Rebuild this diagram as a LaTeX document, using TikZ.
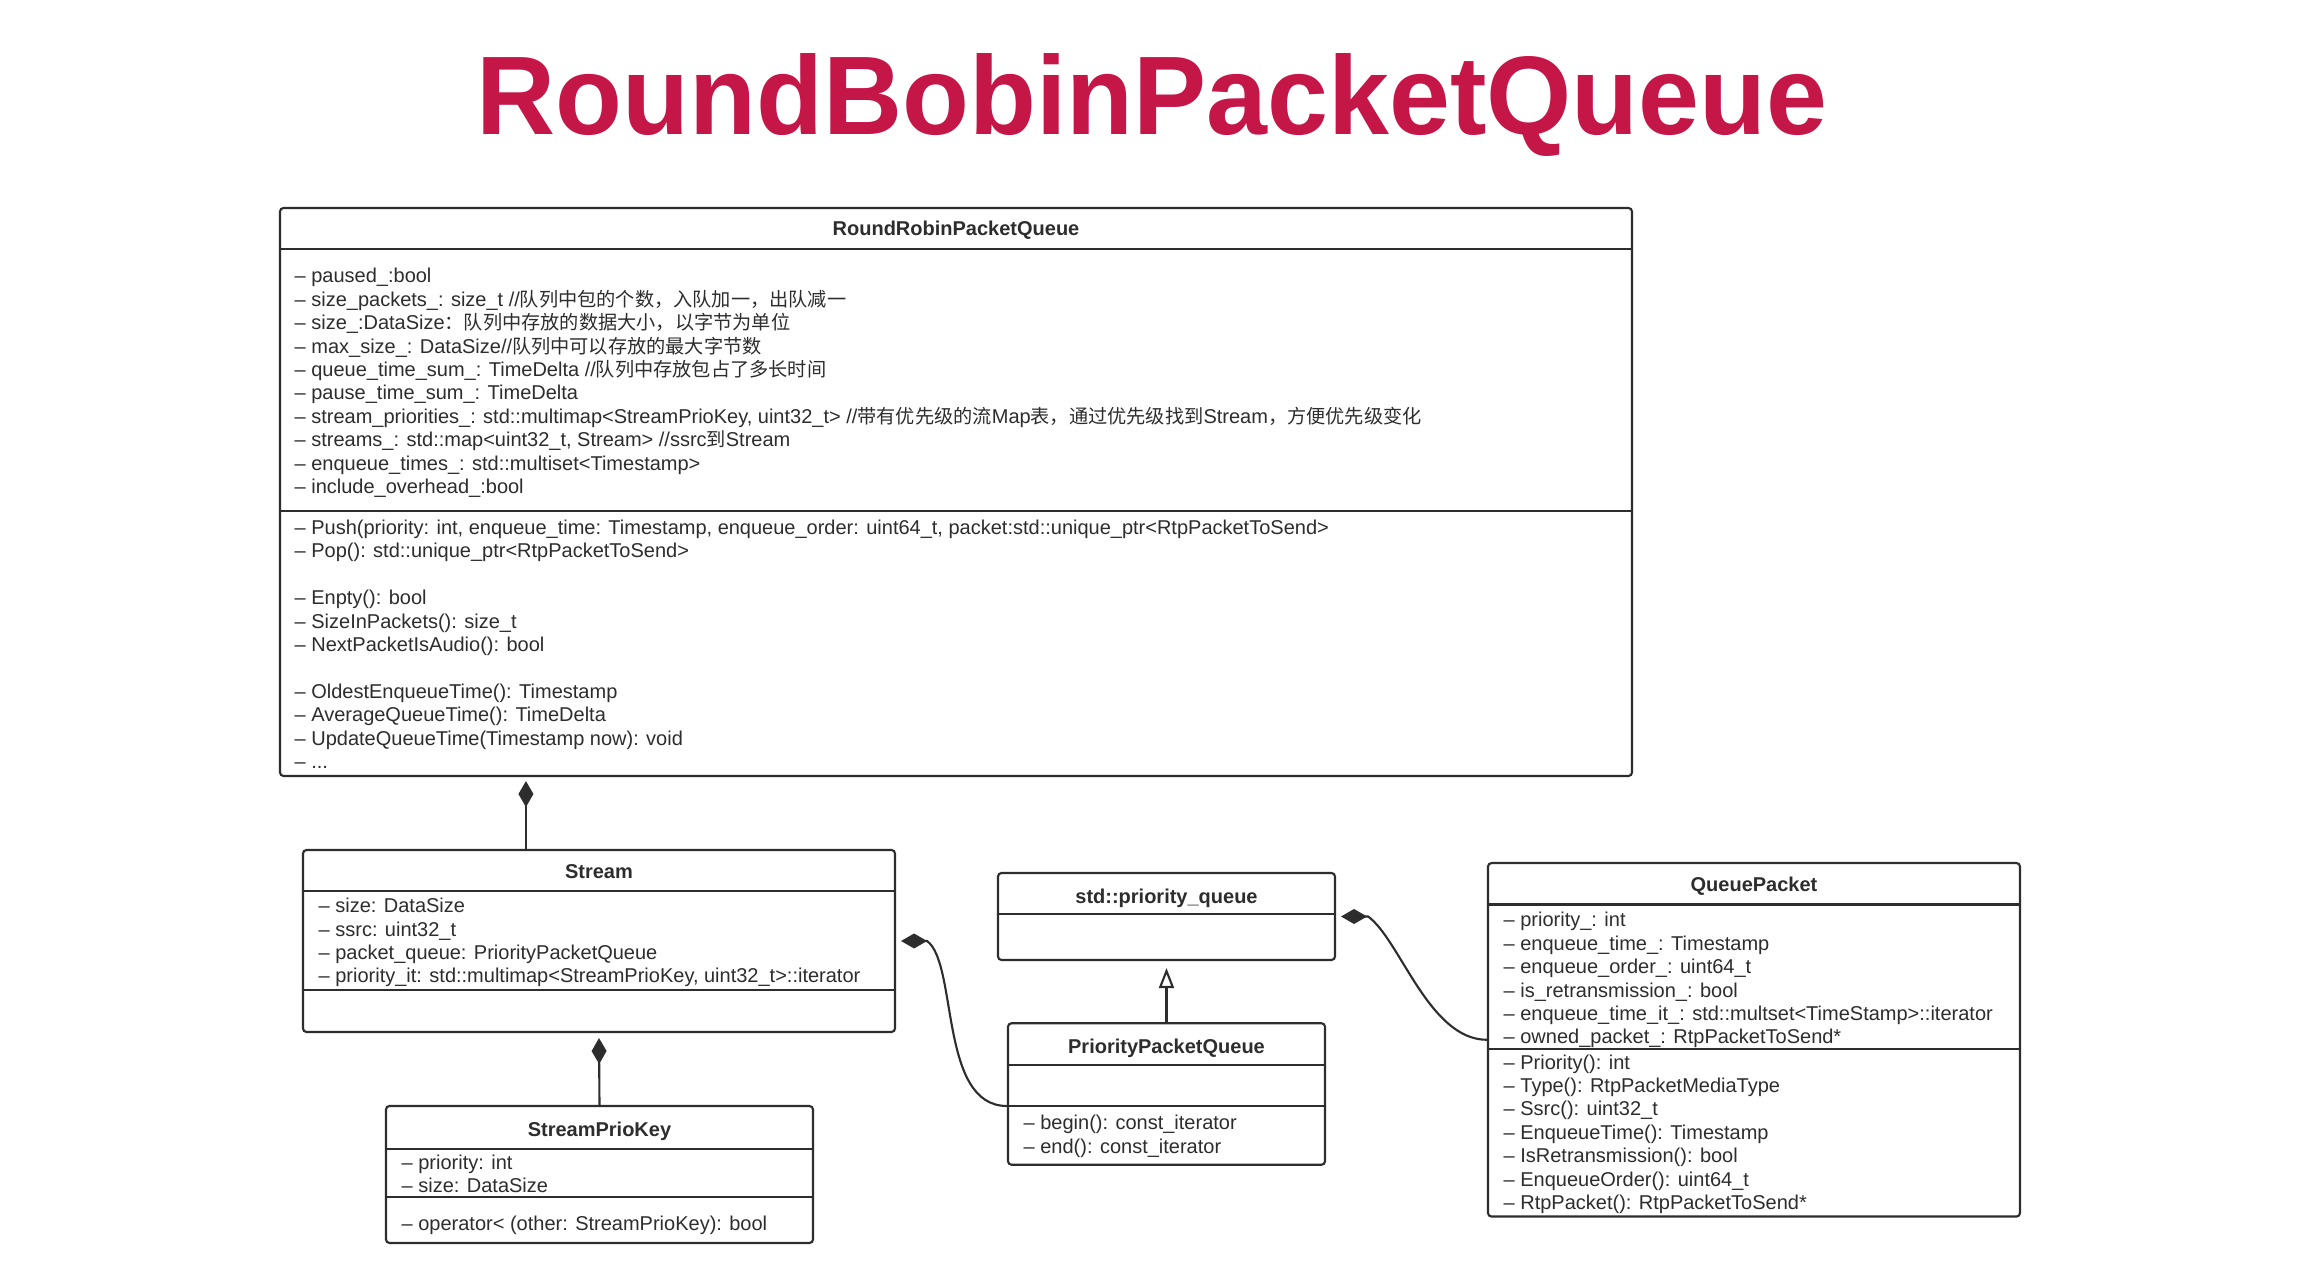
\documentclass[tikz,border=0pt]{standalone}
\usepackage{fontspec}
\setmainfont{Liberation Sans}
\newfontfamily\cjk[Scale=0.96]{Noto Sans CJK SC}
\newfontfamily\titlefont[FakeStretch=0.98]{Liberation Sans}
\usetikzlibrary{arrows.meta, calc}

\definecolor{titlered}{RGB}{197,22,72}
\definecolor{umlgray}{RGB}{45,45,45}
\newcommand\umlfont{\fontsize{5.69pt}{6.66pt}\selectfont}

\begin{document}
\begin{tikzpicture}[x=1cm, y=1cm,
    classbox/.style={draw=umlgray, line width=0.6pt, rounded corners=1pt, inner sep=0pt},
    classname/.style={anchor=base, font=\umlfont\bfseries, text=umlgray, inner sep=0pt},
    member/.style={anchor=base west, align=left, font=\umlfont, text=umlgray, inner sep=0pt},
    compline/.style={draw=umlgray, line width=0.6pt},
    comp/.style={compline, {Diamond[length=0.26cm, width=0.15cm]}-},
    inherit/.style={compline, -{Triangle[open, length=0.2cm, width=0.15cm, fill=white]}}]
    % Canvas
    \fill[white] (0,0) rectangle (23.08,-12.62);
    \useasboundingbox (0,0) rectangle (23.08,-12.62);

    % Title
    \node[font={\titlefont\fontsize{31.8pt}{36pt}\selectfont\bfseries}, text=titlered, anchor=base, inner sep=0pt] (title) at (11.52,-1.35) {RoundBobinPacketQueue};

    % RoundRobinPacketQueue (member nodes sit on the baseline of their last line)
    \node[classbox, minimum width=13.52cm, minimum height=5.68cm] (rrpq) at (9.56,-4.92) {};
    \draw[compline] ([yshift=-0.42cm]rrpq.north west) -- ([yshift=-0.42cm]rrpq.north east);
    \draw[compline] ([yshift=-3.04cm]rrpq.north west) -- ([yshift=-3.04cm]rrpq.north east);
    \node[classname] (rrpq-name) at (9.56,-2.36) {RoundRobinPacketQueue};
    \node[member] (rrpq-attr) at (2.94,-4.936) {%
        – paused\_:bool\\
        – size\_packets\_: size\_t //{\cjk 队列中包的个数，入队加一，出队减一}\\
        – size\_:DataSize{\cjk ：队列中存放的数据大小，以字节为单位}\\
        – max\_size\_: DataSize//{\cjk 队列中可以存放的最大字节数}\\
        – queue\_time\_sum\_: TimeDelta //{\cjk 队列中存放包占了多长时间}\\
        – pause\_time\_sum\_: TimeDelta\\
        – stream\_priorities\_: std::multimap<StreamPrioKey, uint32\_t> //{\cjk 带有优先级的流}Map{\cjk 表，通过优先级找到}Stream{\cjk ，方便优先级变化}\\
        – streams\_: std::map<uint32\_t, Stream> //ssrc{\cjk 到}Stream\\
        – enqueue\_times\_: std::multiset<Timestamp>\\
        – include\_overhead\_:bool};
    \node[member] (rrpq-ops) at (2.94,-7.686) {%
        – Push(priority: int, enqueue\_time: Timestamp, enqueue\_order: uint64\_t, packet:std::unique\_ptr<RtpPacketToSend>\\
        – Pop(): std::unique\_ptr<RtpPacketToSend>\\
        \\
        – Enpty(): bool\\
        – SizeInPackets(): size\_t\\
        – NextPacketIsAudio(): bool\\
        \\
        – OldestEnqueueTime(): Timestamp\\
        – AverageQueueTime(): TimeDelta\\
        – UpdateQueueTime(Timestamp now): void\\
        – ...};

    % Stream
    \node[classbox, minimum width=5.92cm, minimum height=1.82cm] (stream) at (5.99,-9.41) {};
    \draw[compline] ([yshift=-0.425cm]stream.north west) -- ([yshift=-0.425cm]stream.north east);
    \draw[compline] ([yshift=-1.41cm]stream.north west) -- ([yshift=-1.41cm]stream.north east);
    \node[classname] (stream-name) at (5.99,-8.787) {Stream};
    \node[member] (stream-attr) at (3.18,-9.830) {%
        – size: DataSize\\
        – ssrc: uint32\_t\\
        – packet\_queue: PriorityPacketQueue\\
        – priority\_it: std::multimap<StreamPrioKey, uint32\_t>::iterator};

    % StreamPrioKey
    \node[classbox, minimum width=4.27cm, minimum height=1.37cm] (spk) at (5.995,-11.745) {};
    \draw[compline] ([yshift=-0.44cm]spk.north west) -- ([yshift=-0.44cm]spk.north east);
    \draw[compline] ([yshift=-0.92cm]spk.north west) -- ([yshift=-0.92cm]spk.north east);
    \node[classname] (spk-name) at (5.995,-11.363) {StreamPrioKey};
    \node[member] (spk-attr) at (4.01,-11.927) {%
        – priority: int\\
        – size: DataSize};
    \node[member] (spk-ops) at (4.01,-12.30) {– operator< (other: StreamPrioKey): bool};

    % std::priority_queue
    \node[classbox, minimum width=3.37cm, minimum height=0.87cm] (pq) at (11.665,-9.165) {};
    \draw[compline] ([yshift=-0.42cm]pq.north west) -- ([yshift=-0.42cm]pq.north east);
    \node[classname] (pq-name) at (11.665,-9.03) {std::priority\_queue};

    % PriorityPacketQueue
    \node[classbox, minimum width=3.17cm, minimum height=1.415cm] (ppq) at (11.665,-10.94) {};
    \draw[compline] ([yshift=-0.43cm]ppq.north west) -- ([yshift=-0.43cm]ppq.north east);
    \draw[compline] ([yshift=-0.84cm]ppq.north west) -- ([yshift=-0.84cm]ppq.north east);
    \node[classname] (ppq-name) at (11.665,-10.53) {PriorityPacketQueue};
    \node[member] (ppq-ops) at (10.23,-11.534) {%
        – begin(): const\_iterator\\
        – end(): const\_iterator};

    % QueuePacket
    \node[classbox, minimum width=5.32cm, minimum height=3.535cm] (qp) at (17.54,-10.398) {};
    \draw[compline] ([yshift=-0.425cm]qp.north west) -- ([yshift=-0.425cm]qp.north east);
    \draw[compline] ([yshift=-1.87cm]qp.north west) -- ([yshift=-1.87cm]qp.north east);
    \node[classname] (qp-name) at (17.54,-8.917) {QueuePacket};
    \node[member] (qp-attr) at (15.03,-10.439) {%
        – priority\_: int\\
        – enqueue\_time\_: Timestamp\\
        – enqueue\_order\_: uint64\_t\\
        – is\_retransmission\_: bool\\
        – enqueue\_time\_it\_: std::multset<TimeStamp>::iterator\\
        – owned\_packet\_: RtpPacketToSend*};
    \node[member] (qp-ops) at (15.03,-12.096) {%
        – Priority(): int\\
        – Type(): RtpPacketMediaType\\
        – Ssrc(): uint32\_t\\
        – EnqueueTime(): Timestamp\\
        – IsRetransmission(): bool\\
        – EnqueueOrder(): uint64\_t\\
        – RtpPacket(): RtpPacketToSend*};

    % Compositions
    \draw[comp] ($(stream.north west |- rrpq.south)+(2.24,-0.04)$) -- ($(stream.north west)+(2.24,0)$);
    \draw[comp] ($(stream.south)+(0,-0.05)$) -- (spk.north);
    \draw[comp] ($(stream.east)+(0.05,0)$) -- ++(0.26,0)
        .. controls +(0.31,-0.23) and +(-0.68,0) .. ([yshift=-0.12cm]ppq.west);
    \draw[comp] ($(pq.east)+(0.05,0)$) -- ++(0.27,0)
        .. controls +(0.32,-0.23) and +(-0.58,0) .. (qp.west);

    % Inheritance
    \draw[inherit] (ppq.north) -- ($(pq.south)+(0,-0.07)$);
\end{tikzpicture}
\end{document}
